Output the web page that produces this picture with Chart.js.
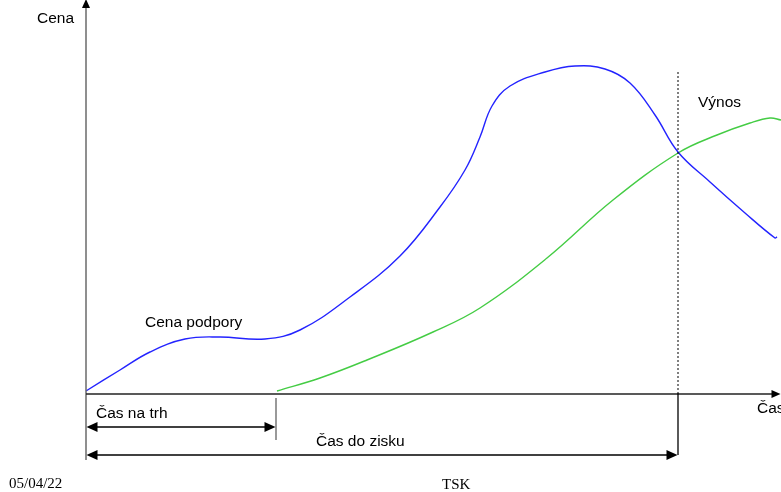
<!DOCTYPE html>
<html>
<head>
<meta charset="utf-8">
<script src="https://cdn.jsdelivr.net/npm/chart.js@4/dist/chart.umd.min.js"></script>
<style>
  html, body { margin: 0; padding: 0; background: #fff; }
  #wrap { position: relative; width: 781px; height: 492px; }
</style>
</head>
<body>
<div id="wrap"><canvas id="c" width="781" height="492"></canvas></div>
<script>
// Time (x) and price (y) values
const supportTime  = [0, 3.4, 6.4, 9.9, 13.4, 17.9, 21.4, 26.4, 31.4, 35.4, 37.9, 39.4, 40.6, 42.4, 45.9, 48.9, 51.9, 54.4, 56.9, 59.2, 62.4, 65.9, 68.9, 69.1];
const supportPrice = [0.2, 2.3, 4.1, 5.4, 5.6, 5.4, 6.3, 9.6, 13.7, 18.6, 22.3, 25.6, 28.7, 30.7, 32.1, 32.7, 32.4, 31.0, 27.8, 24.1, 21.1, 18.0, 15.5, 15.6];
const revenueTime  = [19.1, 23.4, 28.1, 34.7, 39.4, 46.1, 52.7, 59.2, 63.1, 66.4, 68.4, 69.5];
const revenuePrice = [0.2, 1.5, 3.3, 6.1, 8.5, 13.5, 19.3, 24.0, 25.8, 27.0, 27.5, 27.3];
const timeToMarket = 19.0;   // end of "Čas na trh"
const timeToProfit = 59.2;   // end of "Čas do zisku"
const axisEndTime  = 69.4;
const axisTopPrice = 39.3;
const labels = {
  yAxis: "Cena", xAxis: "Čas", support: "Cena podpory", revenue: "Výnos",
  market: "Čas na trh", profit: "Čas do zisku", date: "05/04/22", footer: "TSK"
};

const toPts = (xs, ys) => xs.map((x, i) => ({x: x, y: ys[i]}));

const SANS = '"Liberation Sans", Arial, sans-serif';
const SERIF = '"Liberation Serif", "Times New Roman", serif';

const diagramPlugin = {
  id: 'diagram',
  afterDatasetsDraw(chart) {
    const ctx = chart.ctx;
    const xs = chart.scales.x, ys = chart.scales.y;
    const X = v => xs.getPixelForValue(v);
    const Y = v => ys.getPixelForValue(v);
    const x0 = X(0), y0 = Y(0);
    ctx.save();

    function line(x1, y1, x2, y2, color, w, dash) {
      ctx.beginPath();
      ctx.strokeStyle = color; ctx.lineWidth = w;
      ctx.setLineDash(dash || []);
      ctx.moveTo(x1, y1); ctx.lineTo(x2, y2); ctx.stroke();
      ctx.setLineDash([]);
    }
    function head(tx, ty, dir, len, half) {
      ctx.beginPath(); ctx.fillStyle = '#000';
      if (dir === 'r') { ctx.moveTo(tx, ty); ctx.lineTo(tx - len, ty - half); ctx.lineTo(tx - len, ty + half); }
      if (dir === 'l') { ctx.moveTo(tx, ty); ctx.lineTo(tx + len, ty - half); ctx.lineTo(tx + len, ty + half); }
      if (dir === 'u') { ctx.moveTo(tx, ty); ctx.lineTo(tx - half, ty + len); ctx.lineTo(tx + half, ty + len); }
      ctx.closePath(); ctx.fill();
    }

    // Y axis
    const yMarket = y0 + 34, yProfit = y0 + 62;
    line(x0, yProfit + 5, x0, Y(axisTopPrice) + 6, '#6a6a6a', 1.5);
    head(x0, Y(axisTopPrice) - 1, 'u', 9, 4);
    // X axis
    line(x0, y0 + 1, X(axisEndTime) - 6, y0 + 1, '#222', 1.3);
    head(X(axisEndTime) + 0.5, y0 + 1, 'r', 9, 4);

    // Time to market marker and arrow
    const xm = X(timeToMarket);
    line(xm, y0 + 5, xm, y0 + 47, '#777', 1.5);
    line(x0 + 8, yMarket, xm - 8, yMarket, '#000', 1.3);
    head(x0 + 0.5, yMarket, 'l', 11, 5);
    head(xm - 0.5, yMarket, 'r', 11, 5);

    // Time to profit marker and arrow
    const xp = X(timeToProfit);
    line(xp, Y(32.1), xp, y0, '#000', 1, [2, 2]);
    line(xp, y0, xp, yProfit, '#000', 1.3);
    line(x0 + 8, yProfit, xp - 8, yProfit, '#000', 1.3);
    head(x0 + 0.5, yProfit, 'l', 11, 5);
    head(xp - 0.5, yProfit, 'r', 11, 5);

    // Texts
    ctx.fillStyle = '#000';
    ctx.textBaseline = 'alphabetic';
    ctx.textAlign = 'left';
    ctx.font = '15.5px ' + SANS;
    ctx.fillText(labels.yAxis, 37, 23);
    ctx.fillText(labels.support, 145, 327);
    ctx.fillText(labels.revenue, 698, 107);
    ctx.fillText(labels.xAxis, 757, 413);
    ctx.fillText(labels.market, 96, 418);
    ctx.fillText(labels.profit, 316, 446);
    ctx.font = '15px ' + SERIF;
    ctx.fillText(labels.date, 9, 488);
    ctx.fillText(labels.footer, 442, 489);
    ctx.restore();
  }
};

new Chart(document.getElementById('c'), {
  type: 'line',
  data: {
    datasets: [
      { label: labels.support, data: toPts(supportTime, supportPrice), borderColor: '#2323ff', borderWidth: 1.4, pointRadius: 0, tension: 0.4, fill: false },
      { label: labels.revenue, data: toPts(revenueTime, revenuePrice), borderColor: '#44cc44', borderWidth: 1.4, pointRadius: 0, tension: 0.4, fill: false }
    ]
  },
  options: {
    responsive: false,
    animation: false,
    clip: false,
    layout: { padding: 0 },
    plugins: { legend: { display: false }, tooltip: { enabled: false }, title: { display: false } },
    scales: {
      x: { type: 'linear', min: -8.6, max: 69.5, display: false },
      y: { type: 'linear', min: -9.9, max: 39.3, display: false }
    }
  },
  plugins: [diagramPlugin]
});
</script>
</body>
</html>
